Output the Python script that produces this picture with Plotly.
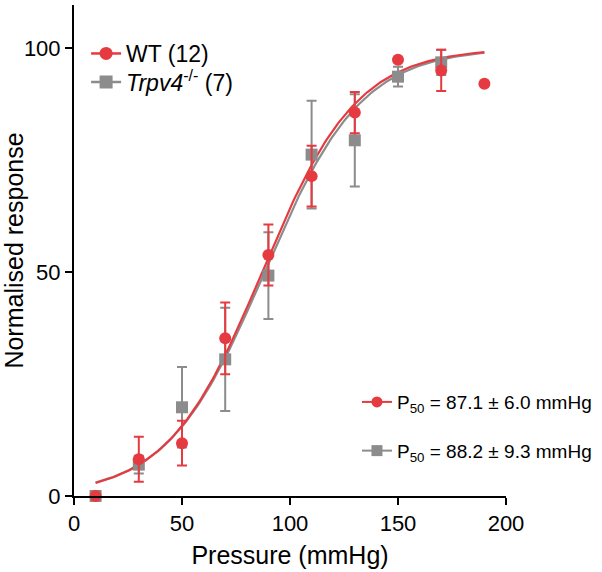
import numpy as np
import plotly.graph_objects as go

# ---- data ----
pressure = [10, 30, 50, 70, 90, 110, 130, 150, 170, 190]
wt_mean = [0, 8.2, 11.8, 35.2, 53.8, 71.4, 85.6, 97.4, 95.0, 92.0]
wt_err = [0, 5.0, 5.0, 8.0, 6.8, 6.8, 4.6, 0, 4.6, 0]

ko_pressure = [10, 30, 50, 70, 90, 110, 130, 150, 170]
ko_mean = [0, 7.0, 19.8, 30.5, 49.2, 76.2, 79.4, 93.6, 96.8]
ko_err = [0, 2.0, 9.0, 11.5, 9.7, 12.0, 10.3, 2.2, 2.8]

# Boltzmann fit parameters
wt_p50, wt_slope = 87.1, 22.0
ko_p50, ko_slope = 88.2, 22.5
fit_min, fit_max = 10, 190

x_ticks = [0, 50, 100, 150, 200]
y_ticks = [0, 50, 100]

RED = "#e53a40"
GREY = "#8c8c8c"
FONT = "Liberation Sans, Arial, sans-serif"

xf = np.linspace(fit_min, fit_max, 200)
def boltz(x, p50, k):
    return 100.0 / (1.0 + np.exp((p50 - x) / k))

fig = go.Figure()

# fit curves
fig.add_trace(go.Scatter(x=xf, y=boltz(xf, ko_p50, ko_slope), mode="lines",
                         line=dict(color=GREY, width=2.2), showlegend=False, hoverinfo="skip"))
fig.add_trace(go.Scatter(x=xf, y=boltz(xf, wt_p50, wt_slope), mode="lines",
                         line=dict(color=RED, width=2.2), showlegend=False, hoverinfo="skip"))

# data points
fig.add_trace(go.Scatter(x=ko_pressure, y=ko_mean, mode="markers",
                         marker=dict(symbol="square", size=12, color=GREY),
                         error_y=dict(type="data", array=ko_err, color=GREY, thickness=2, width=5),
                         showlegend=False, cliponaxis=False))
fig.add_trace(go.Scatter(x=pressure, y=wt_mean, mode="markers",
                         marker=dict(symbol="circle", size=12, color=RED),
                         error_y=dict(type="data", array=wt_err, color=RED, thickness=2, width=5),
                         showlegend=False, cliponaxis=False))

# legend entries (top-left)
fig.add_trace(go.Scatter(x=[None], y=[None], mode="lines+markers", name="WT (12)",
                         line=dict(color=RED, width=2.5),
                         marker=dict(symbol="circle", size=13, color=RED)))
fig.add_trace(go.Scatter(x=[None], y=[None], mode="lines+markers",
                         name="<i>Trpv4</i><sup>-/-</sup> (7)",
                         line=dict(color=GREY, width=2.5),
                         marker=dict(symbol="square", size=13, color=GREY),
                         legend="legend3"))

# P50 entries (bottom-right)
fig.add_trace(go.Scatter(x=[None], y=[None], mode="lines+markers",
                         name=f"P<sub>50</sub> = {wt_p50} ± 6.0 mmHg",
                         line=dict(color=RED, width=2),
                         marker=dict(symbol="circle", size=11, color=RED),
                         legend="legend2", legendgroup="a"))
fig.add_trace(go.Scatter(x=[None], y=[None], mode="lines+markers",
                         name=f"P<sub>50</sub> = {ko_p50} ± 9.3 mmHg",
                         line=dict(color=GREY, width=2),
                         marker=dict(symbol="square", size=11, color=GREY),
                         legend="legend2", legendgroup="b"))

axis_common = dict(showline=True, linecolor="black", linewidth=2, ticks="outside",
                   ticklen=7, tickwidth=2, tickcolor="black", showgrid=False, zeroline=False,
                   automargin=False,
                   tickfont=dict(size=22, color="black", family=FONT),
                   title_font=dict(size=25, color="black", family=FONT))

fig.update_xaxes(range=[0, 200], tickvals=x_ticks, title_text="Pressure (mmHg)",
                 title_standoff=11, **axis_common)
fig.update_yaxes(range=[0, 109.6], tickvals=y_ticks, title_text="Normalised response",
                 title_standoff=2, **axis_common)

leg_font = dict(size=23, family=FONT, color="black")
fig.update_layout(
    width=602, height=572,
    margin=dict(l=74, r=93, t=5, b=76),
    plot_bgcolor="white", paper_bgcolor="white",
    font=dict(family=FONT, color="black"),
    legend=dict(x=0.028, y=0.945, xanchor="left", yanchor="top", bgcolor="rgba(0,0,0,0)",
                font=leg_font),
    legend3=dict(x=0.028, y=0.887, xanchor="left", yanchor="top", bgcolor="rgba(0,0,0,0)",
                 font=leg_font),
    legend2=dict(x=0.655, y=0.230, xanchor="left", yanchor="top", bgcolor="rgba(0,0,0,0)",
                 font=dict(size=19, family=FONT, color="black"),
                 traceorder="grouped", tracegroupgap=21),
)

fig.write_html("out.html", config={"displayModeBar": False},
               post_script="document.body.style.margin='0';document.body.style.padding='0';")
